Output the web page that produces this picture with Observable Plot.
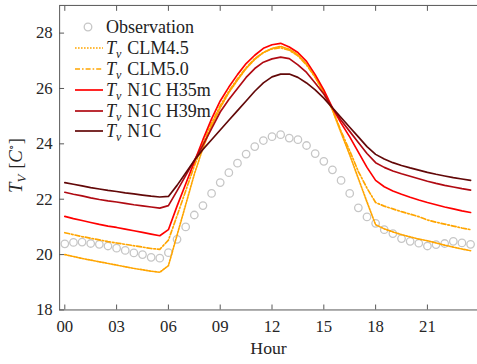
<!DOCTYPE html>
<html><head><meta charset="utf-8">
<script src="https://cdn.jsdelivr.net/npm/d3@7"></script>
<script src="https://cdn.jsdelivr.net/npm/@observablehq/plot@0.6"></script>
<style>
html,body{margin:0;padding:0;background:#fff;overflow:hidden;width:477px;height:364px}
#chart{position:relative;width:477px;height:364px;overflow:hidden}
#chart svg{display:block}
#legend{position:absolute;left:75px;top:17px;font-family:"Liberation Serif","DejaVu Serif","Times New Roman",serif;font-size:18px;color:#222;line-height:1}
.row{display:flex;align-items:center;height:20.8px;white-space:nowrap}
.row svg{width:28px;height:10px;margin-right:3px;flex:none}
.row i{font-style:italic}
.row sub{font-size:12px;font-style:italic;vertical-align:-4px;margin-right:6px;line-height:0}
</style></head><body><div id="chart"><div id="legend"></div></div>
<script>
// ---- data ----
const hours = [0,0.5,1,1.5,2,2.5,3,3.5,4,4.5,5,5.5,6,6.5,7,7.5,8,8.5,9,9.5,10,10.5,11,11.5,
               12,12.5,13,13.5,14,14.5,15,15.5,16,16.5,17,17.5,18,18.5,19,19.5,20,20.5,21,21.5,22,22.5,23,23.5];
const observation = [20.39,20.44,20.45,20.40,20.37,20.31,20.23,20.15,20.06,20.00,19.90,19.87,
                     20.07,20.55,21.00,21.43,21.77,22.21,22.60,22.96,23.30,23.63,23.90,24.12,
                     24.26,24.33,24.21,24.15,23.94,23.65,23.37,23.06,22.68,22.21,21.69,21.36,
                     21.13,20.90,20.76,20.58,20.48,20.41,20.31,20.36,20.40,20.48,20.42,20.37];
const clm45 = [20.00,19.93,19.86,19.80,19.74,19.68,19.62,19.56,19.50,19.45,19.40,19.36,
               19.60,20.70,21.80,22.90,23.85,24.65,25.30,25.85,26.30,26.72,27.05,27.30,
               27.45,27.52,27.42,27.22,26.88,26.42,25.85,25.22,24.40,23.60,22.75,21.90,
               21.08,20.93,20.82,20.72,20.64,20.56,20.50,20.42,20.34,20.27,20.20,20.14];
const clm50 = [20.79,20.72,20.65,20.59,20.53,20.47,20.42,20.37,20.32,20.27,20.22,20.19,
               20.52,21.40,22.30,23.20,24.00,24.75,25.38,25.90,26.35,26.75,27.08,27.30,
               27.43,27.47,27.38,27.18,26.85,26.40,25.85,25.25,24.45,23.75,23.00,22.40,
               21.88,21.75,21.65,21.55,21.46,21.37,21.25,21.17,21.10,21.03,20.96,20.90];
const n1cH35 = [21.38,21.30,21.23,21.16,21.09,21.03,20.98,20.92,20.86,20.80,20.74,20.68,
                20.90,21.75,22.55,23.35,24.15,24.90,25.55,26.05,26.50,26.90,27.20,27.45,
                27.58,27.63,27.50,27.30,26.98,26.50,25.95,25.30,24.75,24.25,23.70,23.15,
                22.68,22.45,22.30,22.18,22.07,21.97,21.88,21.80,21.72,21.65,21.58,21.52];
const n1cH39 = [22.25,22.18,22.12,22.05,21.99,21.94,21.90,21.85,21.80,21.76,21.72,21.68,
                21.77,22.30,22.85,23.40,23.95,24.55,25.15,25.60,26.00,26.40,26.72,26.95,
                27.07,27.13,27.08,26.85,26.58,26.20,25.80,25.30,24.85,24.45,24.05,23.65,
                23.32,23.15,23.02,22.92,22.83,22.74,22.65,22.57,22.50,22.44,22.38,22.33];
const n1c = [22.60,22.54,22.48,22.42,22.37,22.32,22.28,22.23,22.19,22.15,22.11,22.08,
             22.10,22.50,22.95,23.40,23.80,24.15,24.50,24.85,25.20,25.55,25.90,26.20,
             26.42,26.52,26.52,26.40,26.20,25.95,25.65,25.30,24.95,24.60,24.25,23.90,
             23.62,23.45,23.32,23.22,23.13,23.05,22.97,22.90,22.84,22.78,22.73,22.68];
const seriesLabels = ["CLM4.5","CLM5.0","N1C H35m","N1C H39m","N1C"];
const seriesValues = [clm45, clm50, n1cH35, n1cH39, n1c];
const obsLabel = "Observation";
const xTicks = [0,3,6,9,12,15,18,21];
const yTicks = [18,20,22,24,26,28];

// ---- styles ----
const FONT = "'Liberation Serif', 'DejaVu Serif', 'Times New Roman', serif";
const lineStyles = [
  {stroke:"#FFA500", dash:"1.6,1.4", width:1.7},
  {stroke:"#FFA500", dash:"5,2,1.6,2", width:1.7},
  {stroke:"#FF0000", dash:null, width:1.7},
  {stroke:"#B00A12", dash:null, width:1.7},
  {stroke:"#620808", dash:null, width:1.7}
];
const obsColor = "#C6C6C6";

const obsData = hours.map((h,i)=>({h, v: observation[i]}));
const seriesData = seriesValues.map(vals => hours.map((h,i)=>({h, v: vals[i]})));

const axisColor = "#555";
const svg = Plot.plot({
  width: 484, height: 364,
  marginLeft: 60, marginRight: 0, marginTop: 5, marginBottom: 50,
  style: {fontFamily: FONT, fontSize: "17px", color: "#262626", background: "transparent"},
  x: {domain: [-0.3, 23.9]},
  y: {domain: [18, 29]},
  marks: [
    Plot.frame({stroke: axisColor, strokeWidth: 1}),
    Plot.axisX({anchor: "bottom", ticks: xTicks, tickSize: -5, tickFormat: () => "", stroke: axisColor, label: null}),
    Plot.axisX({anchor: "top", ticks: xTicks, tickSize: -5, tickFormat: () => "", stroke: axisColor, label: null}),
    Plot.axisX({anchor: "bottom", ticks: xTicks, tickSize: 0, tickPadding: 10,
                tickFormat: d => String(d).padStart(2, "0"), fill: "#262626",
                label: "Hour", labelAnchor: "center", labelArrow: "none", labelOffset: 45}),
    Plot.axisY({anchor: "left", ticks: yTicks, tickSize: -5, tickFormat: () => "", stroke: axisColor, label: null}),
    Plot.axisY({anchor: "left", ticks: yTicks, tickSize: 0, tickPadding: 7, fill: "#262626", label: null}),
    Plot.dot(obsData, {x: "h", y: "v", r: 3.8, stroke: obsColor, strokeWidth: 1.3, fill: "none"}),
    ...seriesData.map((d, i) => Plot.line(d, {x: "h", y: "v", stroke: lineStyles[i].stroke,
        strokeWidth: lineStyles[i].width, strokeDasharray: lineStyles[i].dash}))
  ]
});
document.getElementById("chart").prepend(svg);
d3.select(svg).selectAll("text").style("font-family", FONT);

// x label font size
d3.select(svg).selectAll('g[aria-label="x-axis label"] text').style("font-size", "18px");

// y label with rich text
const yl = d3.select(svg).append("text")
  .attr("transform", "translate(22,168) rotate(-90)")
  .attr("text-anchor", "middle")
  .attr("fill", "#262626")
  .style("font-family", FONT)
  .style("font-size", "19px");
yl.append("tspan").style("font-style", "italic").text("T");
yl.append("tspan").attr("dy", 4).style("font-size", "13px").style("font-style", "italic").text("V");
yl.append("tspan").attr("dy", -4).attr("dx", 6).text("[");
yl.append("tspan").style("font-style", "italic").text("C");
yl.append("tspan").attr("dy", -7).style("font-size", "12px").text("∘");
yl.append("tspan").attr("dy", 7).text("]");

// legend
const legend = d3.select("#legend");
const r0 = legend.append("div").attr("class", "row");
const s0 = r0.append("svg").attr("viewBox", "0 0 28 10");
s0.append("circle").attr("cx", 13).attr("cy", 5).attr("r", 3.8).attr("fill", "none")
  .attr("stroke", obsColor).attr("stroke-width", 1.3);
r0.append("span").text(obsLabel);
seriesLabels.forEach((lab, i) => {
  const row = legend.append("div").attr("class", "row");
  const s = row.append("svg").attr("viewBox", "0 0 28 10");
  s.append("line").attr("x1", 0).attr("x2", 28).attr("y1", 5).attr("y2", 5)
    .attr("stroke", lineStyles[i].stroke).attr("stroke-width", lineStyles[i].width)
    .attr("stroke-dasharray", lineStyles[i].dash);
  const t = row.append("span");
  t.append("i").text("T");
  t.append("sub").text("v");
  t.append("span").text(lab);
});
</script>
</body></html>
